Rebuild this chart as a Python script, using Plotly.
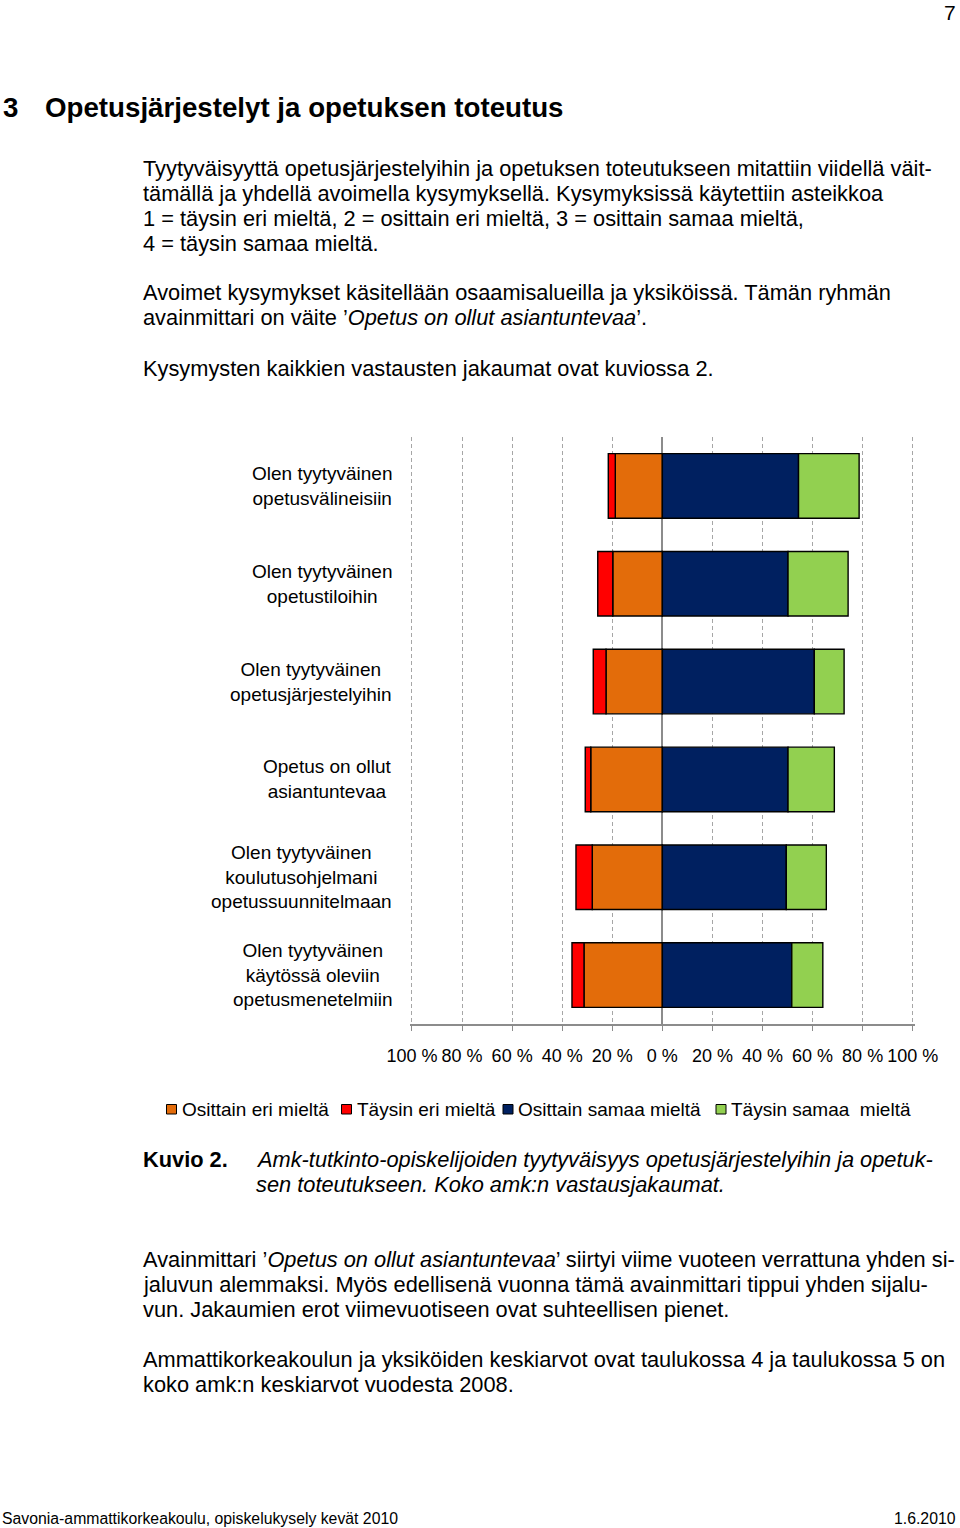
import plotly.graph_objects as go

# ---------------- data ----------------
categories = [
    "Olen tyytyväinen<br>opetusvälineisiin",
    "Olen tyytyväinen<br>opetustiloihin",
    "Olen tyytyväinen<br>opetusjärjestelyihin",
    "Opetus on ollut<br>asiantuntevaa",
    "Olen tyytyväinen<br>koulutusohjelmani<br>opetussuunnitelmaan",
    "Olen tyytyväinen<br>käytössä oleviin<br>opetusmenetelmiin",
]
osittain_eri = [18.8, 19.8, 22.5, 28.6, 28.0, 31.3]
taysin_eri = [2.8, 6.0, 5.1, 2.2, 6.5, 4.8]
osittain_samaa = [54.4, 50.2, 60.7, 50.2, 49.5, 51.7]
taysin_samaa = [24.2, 24.0, 11.9, 18.5, 16.0, 12.4]

series_names = ["Osittain eri mieltä", "Täysin eri mieltä",
                "Osittain samaa mieltä", "Täysin samaa  mieltä"]
series_colors = ["#E36C0A", "#FF0000", "#002060", "#92D050"]

tick_values = [-100, -80, -60, -40, -20, 0, 20, 40, 60, 80, 100]
tick_labels = ["100 %", "80 %", "60 %", "40 %", "20 %", "0 %",
               "20 %", "40 %", "60 %", "80 %", "100 %"]

# ---------------- figure ----------------
W, H = 960, 1528
FONT = "Liberation Sans, Arial, sans-serif"


def px(x):
    return x / W


def py(y):
    return 1 - y / H


fig = go.Figure()
signs = [-1, -1, 1, 1]
for name, color, vals, s in zip(series_names, series_colors,
                                [osittain_eri, taysin_eri, osittain_samaa, taysin_samaa], signs):
    fig.add_trace(go.Bar(
        y=categories, x=[s * v for v in vals], name=name, orientation="h",
        marker=dict(color=color, line=dict(color="#000000", width=1.4)),
        showlegend=False,
    ))

annotations = []
# category labels (centered multi-line blocks, right edge near the plot)
for c in categories:
    annotations.append(dict(
        x=px(394), xref="paper", y=c, yref="y", text=c, showarrow=False,
        xanchor="right", yanchor="middle", align="center",
        font=dict(family=FONT, size=19, color="#000000"),
    ))


def line(text, x, y, size=21.8, xanchor="left"):
    annotations.append(dict(
        x=px(x), y=py(y), xref="paper", yref="paper", text=text, showarrow=False,
        xanchor=xanchor, yanchor="middle", align="left",
        font=dict(family=FONT, size=size, color="#000000"),
    ))


line("7", 958, 12, size=21, xanchor="right")
line("<b>3</b>", 1, 108, size=27.7)
line("<b>Opetusjärjestelyt ja opetuksen toteutus</b>", 43, 108, size=27.7)

para_lines = [
    ("Tyytyväisyyttä opetusjärjestelyihin ja opetuksen toteutukseen mitattiin viidellä väit-", 168),
    ("tämällä ja yhdellä avoimella kysymyksellä. Kysymyksissä käytettiin asteikkoa", 193),
    ("1 = täysin eri mieltä, 2 = osittain eri mieltä, 3 = osittain samaa mieltä,", 218),
    ("4 = täysin samaa mieltä.", 243),
    ("Avoimet kysymykset käsitellään osaamisalueilla ja yksiköissä. Tämän ryhmän", 293),
    ("avainmittari on väite ’<i>Opetus on ollut asiantuntevaa</i>’.", 318),
    ("Kysymysten kaikkien vastausten jakaumat ovat kuviossa 2.", 368),
    ("Avainmittari ’<i>Opetus on ollut asiantuntevaa</i>’ siirtyi viime vuoteen verrattuna yhden si-", 1259),
    ("jaluvun alemmaksi. Myös edellisenä vuonna tämä avainmittari tippui yhden sijalu-", 1284),
    ("vun. Jakaumien erot viimevuotiseen ovat suhteellisen pienet.", 1309),
    ("Ammattikorkeakoulun ja yksiköiden keskiarvot ovat taulukossa 4 ja taulukossa 5 on", 1359),
    ("koko amk:n keskiarvot vuodesta 2008.", 1384),
]
for t, y in para_lines:
    line(t, 141, y)

line("<b>Kuvio 2.</b>", 141, 1159)
line("<i>Amk-tutkinto-opiskelijoiden tyytyväisyys opetusjärjestelyihin ja opetuk-</i>", 254, 1159)
line("<i>sen toteutukseen. Koko amk:n vastausjakaumat.</i>", 254, 1184)

line("Savonia-ammattikorkeakoulu, opiskelukysely kevät 2010", 0, 1518, size=15.8)
line("1.6.2010", 958, 1518, size=15.8, xanchor="right")

# legend drawn as small boxes + labels
shapes = []
legend_text_x = [179.5, 354.5, 516, 729]
for name, color, tx in zip(series_names, series_colors, legend_text_x):
    shapes.append(dict(type="rect", xref="paper", yref="paper",
                       x0=px(tx - 13), x1=px(tx - 3), y0=py(1114), y1=py(1104.5),
                       fillcolor=color, line=dict(color="#000000", width=1)))
    annotations.append(dict(
        x=px(tx), y=py(1109), xref="paper", yref="paper", text=name, showarrow=False,
        xanchor="left", yanchor="middle",
        font=dict(family=FONT, size=19, color="#000000"),
    ))

# axis range slightly beyond ±100 so the end gridlines are drawn
R = 100.8
scale = (912.7 - 412) / 200.0
x_left = 412 - (R - 100) * scale
x_right = 912.7 + (R - 100) * scale

fig.update_layout(
    width=W, height=H,
    margin=dict(l=0, r=0, t=0, b=0, autoexpand=False),
    paper_bgcolor="white", plot_bgcolor="white",
    barmode="relative", bargap=0.34,
    annotations=annotations, shapes=shapes,
    xaxis=dict(
        domain=[px(x_left), px(x_right)], range=[-R, R],
        tickvals=tick_values, ticktext=tick_labels, tickangle=0,
        automargin=False,
        showgrid=True, gridcolor="#A6A6A6", griddash="4px,3px", gridwidth=1,
        zeroline=True, zerolinecolor="#8C8C8C", zerolinewidth=1.5,
        showline=True, linecolor="#8C8C8C", linewidth=1.5,
        ticks="outside", ticklen=5, tickcolor="#8C8C8C",
        ticklabelstandoff=10,
        tickfont=dict(family=FONT, size=18, color="#000000"),
        fixedrange=True,
    ),
    yaxis=dict(
        domain=[py(1024), py(437)],
        categoryorder="array", categoryarray=categories,
        autorange="reversed", showticklabels=False, showgrid=False,
        zeroline=False, showline=False, ticks="", automargin=False,
        fixedrange=True,
    ),
)

fig.write_html(
    "out.html",
    config={"displayModeBar": False},
    post_script="document.body.style.margin='0';document.body.style.padding='0';",
)
